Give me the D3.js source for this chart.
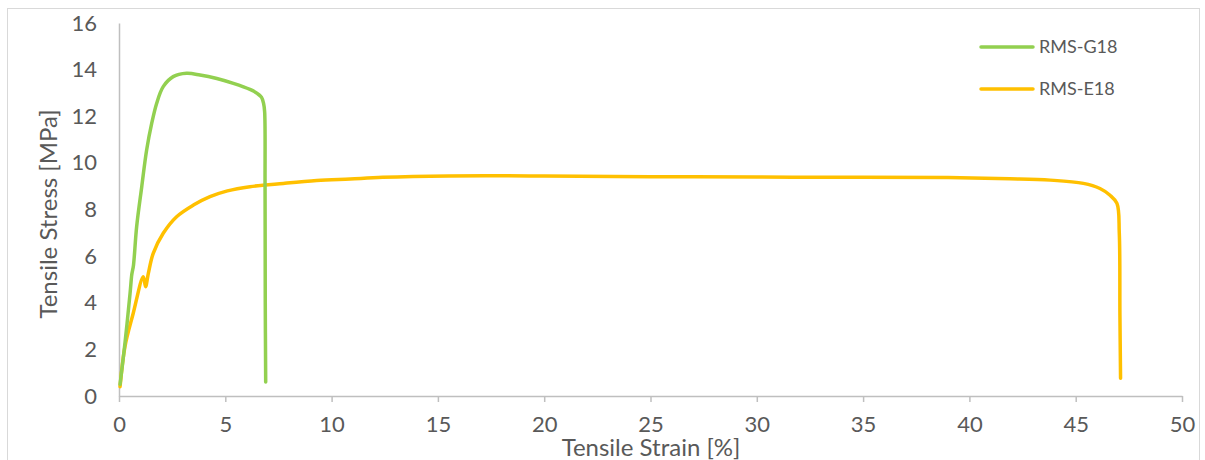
<!DOCTYPE html>
<html>
<head>
<meta charset="utf-8">
<script src="https://cdn.jsdelivr.net/npm/d3@7"></script>
<style>
  body { margin: 0; background: #fff; }
  text { font-family: Lato, "Open Sans", sans-serif; fill: #595959; }
</style>
</head>
<body>
<div id="chart"></div>
<script>
// strain [%] and stress [MPa]
var g18Strain = [0.05, 0.28, 0.52, 0.6, 0.63, 0.68, 0.83, 1.07, 1.3, 1.54, 1.77, 2.08, 2.55, 3.18, 3.81, 4.6, 5.38, 6.16, 6.5, 6.7, 6.8, 6.85, 6.87, 6.88, 6.9];
var g18Stress = [0.5, 2.26, 4.4, 5.2, 5.35, 5.6, 7.26, 8.98, 10.55, 11.7, 12.55, 13.27, 13.7, 13.84, 13.77, 13.62, 13.41, 13.15, 12.98, 12.82, 12.55, 12.2, 9.0, 4.0, 0.6];

var e18Strain = [0.05, 0.28, 0.67, 1.14, 1.25, 1.38, 1.61, 2.08, 2.71, 3.5, 4.28, 5.1, 6.16, 7.73, 9.3, 10.87, 12.4, 15.5, 20, 25, 30, 35, 39, 41.9, 43.8, 45.36, 46.14, 46.6, 46.94, 47.05, 47.08, 47.11];
var e18Stress = [0.4, 2.12, 3.55, 5.12, 4.69, 5.26, 6.12, 6.98, 7.69, 8.19, 8.55, 8.8, 8.98, 9.12, 9.24, 9.31, 9.38, 9.44, 9.44, 9.41, 9.39, 9.38, 9.37, 9.32, 9.26, 9.12, 8.9, 8.62, 8.26, 7.0, 3.5, 0.76];

var seriesNames = ["RMS-G18", "RMS-E18"];
var seriesColors = ["#92D050", "#FFC000"];

var xTicks = [0, 5, 10, 15, 20, 25, 30, 35, 40, 45, 50];
var yTicks = [0, 2, 4, 6, 8, 10, 12, 14, 16];

var width = 1205, height = 460;
var plotLeft = 119, plotRight = 1182, plotTop = 23, plotBottom = 396;

var svg = d3.select("#chart").append("svg")
  .attr("width", width)
  .attr("height", height);

// chart frame
svg.append("rect")
  .attr("x", 7.5).attr("y", 8.5)
  .attr("width", 1192).attr("height", 470)
  .attr("fill", "none")
  .attr("stroke", "#D9D9D9");

var x = d3.scaleLinear().domain([0, 50]).range([plotLeft, plotRight]);
var y = d3.scaleLinear().domain([0, 16]).range([plotBottom, plotTop]);

// x axis
var xAxis = svg.append("g")
  .attr("transform", "translate(0," + plotBottom + ")")
  .call(d3.axisBottom(x).tickValues(xTicks).tickSize(6).tickPadding(14).tickSizeOuter(0));
xAxis.select(".domain").attr("stroke", "#BFBFBF").attr("stroke-width", 1.5);
xAxis.selectAll(".tick line").attr("stroke", "#BFBFBF").attr("stroke-width", 1.5);
xAxis.selectAll(".tick text")
  .attr("font-size", 22)
  .style("font-family", "Lato, sans-serif")
  .attr("fill", "#595959");

// y axis
var yAxis = svg.append("g")
  .attr("transform", "translate(" + plotLeft + ",0)")
  .call(d3.axisLeft(y).tickValues(yTicks).tickSize(0).tickPadding(22).tickSizeOuter(0));
yAxis.select(".domain").attr("stroke", "#BFBFBF").attr("stroke-width", 1.5);
yAxis.selectAll(".tick text")
  .attr("font-size", 22)
  .style("font-family", "Lato, sans-serif")
  .attr("fill", "#595959");

// axis titles
svg.append("text")
  .attr("x", 651).attr("y", 456)
  .attr("text-anchor", "middle")
  .attr("font-size", 24)
  .text("Tensile Strain [%]");

svg.append("text")
  .attr("transform", "translate(57,214) rotate(-90)")
  .attr("text-anchor", "middle")
  .attr("font-size", 24)
  .text("Tensile Stress [MPa]");

var line = d3.line()
  .x(function (d) { return x(d[0]); })
  .y(function (d) { return y(d[1]); })
  .curve(d3.curveCatmullRom.alpha(0.5));

var series = [
  d3.zip(g18Strain, g18Stress),
  d3.zip(e18Strain, e18Stress)
];

// yellow first, green on top like the reference crossing
svg.selectAll(".curve")
  .data([1, 0])
  .enter()
  .append("path")
  .attr("class", "curve")
  .attr("fill", "none")
  .attr("stroke", function (i) { return seriesColors[i]; })
  .attr("stroke-width", 3.5)
  .attr("stroke-linejoin", "round")
  .attr("stroke-linecap", "round")
  .attr("d", function (i) { return line(series[i]); });

// legend
var legend = svg.selectAll(".legend")
  .data(seriesNames)
  .enter()
  .append("g")
  .attr("class", "legend")
  .attr("transform", function (d, i) { return "translate(981," + (47 + i * 42) + ")"; });

legend.append("line")
  .attr("x1", 0).attr("x2", 52)
  .attr("stroke", function (d, i) { return seriesColors[i]; })
  .attr("stroke-width", 3.5)
  .attr("stroke-linecap", "round");

legend.append("text")
  .attr("x", 58)
  .attr("dy", "0.35em")
  .attr("font-size", 18)
  .text(function (d) { return d; });
</script>
</body>
</html>
